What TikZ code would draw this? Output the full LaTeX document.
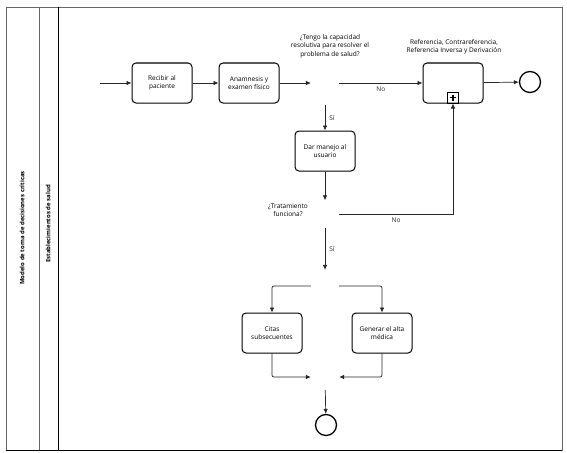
\documentclass[tikz,border=0pt]{standalone}
\usepackage{fontspec}
\setmainfont{Open Sans}
\usetikzlibrary{arrows.meta}

\begin{document}
\begin{tikzpicture}[x=1pt,y=-1pt,
  task/.style={draw, line width=1pt, rounded corners=4pt, minimum width=60pt, minimum height=40pt, align=center, font=\fontsize{6.5}{8.5}\selectfont},
  gate/.style={inner sep=0, minimum width=28pt},
  flow/.style={-{Latex[length=5pt,width=4.5pt]}, black!85, line width=0.7pt},
  lbl/.style={font=\fontsize{6.5}{8.5}\selectfont, align=center, inner sep=1pt},
  endev/.style={draw, circle, line width=1.3pt, minimum size=21pt, inner sep=0},
  lanetext/.style={rotate=90, font=\bfseries\fontsize{6}{7}\selectfont}]
\useasboundingbox (0,0) rectangle (567,452);
% pool and lane
\draw[black!60] (6,7) rectangle (562,450);
\draw[black!60] (39,7) -- (39,450);
\draw[line width=1pt] (58,7) -- (58,450);
\draw[line width=1pt] (6,450) -- (562,450);
\node[lanetext] (pool) at (22,228) {Modelo de toma de decisiones críticas};
\node[lanetext] (lane) at (48,224) {Establecimientos de salud};
% tasks and gateways
\coordinate (inicio) at (100,83);
\node[task] (recibir) at (162,83) {Recibir al\\paciente};
\node[task] (anamnesis) at (249,83) {Anamnesis y\\examen físico};
\node[gate, minimum height=44pt] (g1) at (325,83) {};
\node[task] (referencia) at (453,83) {};
\node[draw, line width=0.8pt, minimum size=11pt, inner sep=0, anchor=south] (sub) at (referencia.south) {};
\draw[line width=1.1pt] (sub.center) ++(-3,0) -- ++(6,0) (sub.center) ++(0,-3) -- ++(0,6);
\node[endev] (fin1) at (530,82) {};
\node[task] (manejo) at (325,151) {Dar manejo al\\usuario};
\node[gate, minimum height=27pt] (g2) at (325,214) {};
\node[gate, minimum height=32pt] (g3) at (325,286) {};
\node[task] (citas) at (272,333) {Citas\\subsecuentes};
\node[task] (alta) at (382,333) {Generar el alta\\médica};
\node[gate, minimum height=26pt] (g4) at (325,377) {};
\node[endev] (fin2) at (326,425) {};
% labels
\node[lbl] (preg1) at (330,46) {¿Tengo la capacidad\\resolutiva para resolver el\\problema de salud?};
\node[lbl] (reftxt) at (454,47) {Referencia, Contrareferencia,\\Referencia Inversa y Derivación};
\node[lbl] (preg2) at (288,210) {¿Tratamiento\\funciona?};
% flows
\draw[flow] (inicio) -- (recibir);
\draw[flow] (recibir) -- (anamnesis);
\draw[flow] (anamnesis) -- (g1);
\draw[flow] (g1) -- node[lbl, below=3pt] (no1) {No} (referencia);
\draw[flow] (referencia) -- (fin1);
\draw[flow] (g1) -- node[lbl, right=3pt] (si1) {Sí} (manejo);
\draw[flow] (manejo) -- (g2);
\draw[flow] (g2) -| node[lbl, pos=0.25, below=3pt] (no2) {No} (sub.south);
\draw[flow] (g2) -- node[lbl, right=3pt] (si2) {Sí} (g3);
\draw[flow, rounded corners=2pt] (g3.west) -| (citas);
\draw[flow, rounded corners=2pt] (g3.east) -| (alta);
\draw[flow, rounded corners=2pt] (citas) |- (g4.west);
\draw[flow, rounded corners=2pt] (alta) |- (g4.east);
\draw[flow] (g4) -- (fin2);
\end{tikzpicture}
\end{document}
